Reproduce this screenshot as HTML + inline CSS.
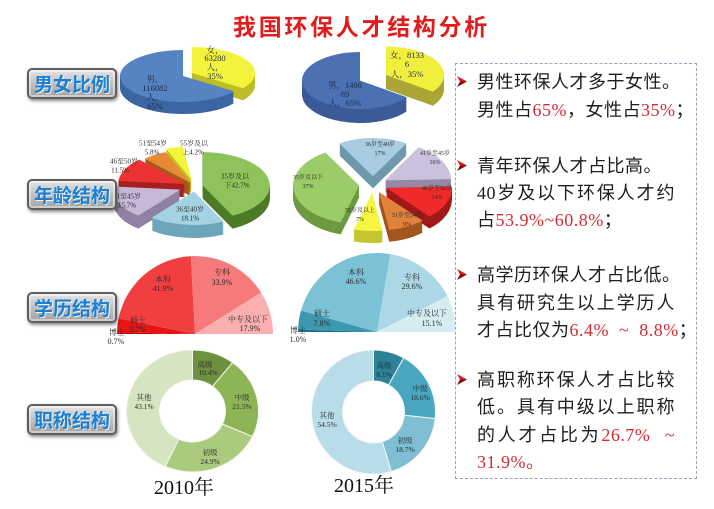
<!DOCTYPE html>
<html><head><meta charset="utf-8"><style>
html,body{margin:0;padding:0;background:#fff;}
body{width:714px;height:509px;position:relative;overflow:hidden;}
.title{position:absolute;left:233px;top:12px;font:bold 23px "Liberation Sans","Noto Sans CJK SC",sans-serif;color:#e21c1c;letter-spacing:2.7px;line-height:30px;white-space:nowrap;}
.btn{position:absolute;left:27px;width:86px;height:27px;border-radius:5px;border:2px solid #5e5e5e;background:linear-gradient(#e4e4e4,#c4c4c4 45%,#a2a2a2);box-shadow:1px 2px 3px rgba(0,0,0,.45),inset 0 0 0 2px rgba(255,255,255,.45);text-align:center;line-height:27px;font:bold 19px "Liberation Sans","Noto Sans CJK SC",sans-serif;color:#1d7fd1;text-shadow:1px 1px 0 rgba(255,255,255,.8);}
.box{position:absolute;left:455px;top:63px;width:240px;height:414px;border:1px dashed #98a4bc;background:#fff;}
.ln{position:absolute;left:477px;font-size:18px;line-height:20px;letter-spacing:0.5px;white-space:nowrap;color:#1e1e1e;font-family:"Liberation Serif","Noto Sans CJK SC",sans-serif;}
.j{width:198px;text-align:justify;text-align-last:justify;}
.r{color:#d42b33;}
.ar{position:absolute;left:457px;}
.yr{position:absolute;font:20px "Liberation Serif","Noto Serif CJK SC",serif;color:#111;line-height:24px;white-space:nowrap;}
</style></head><body>
<svg width="714" height="509" style="position:absolute;left:0;top:0" font-family="Liberation Serif, Noto Serif CJK SC, serif">
<defs>
<path id="g1b" d="M0,0 L51,15.3 A63,26 0 1 1 0,-26 Z"/>
<path id="g1y" d="M0,0 L0,-26 A63,26 0 0 1 51,15.3 Z"/>
<path id="g2b" d="M0,0 L46.9,16.8 A58,28.5 0 1 1 0,-28.5 Z"/>
<path id="g2y" d="M0,0 L0,-28.5 A58,28.5 0 0 1 46.9,16.8 Z"/>
<path id="a1g" d="M0,0 L0,-33.5 A67,33.5 0 0 1 29.69,30.03 Z"/>
<path id="a1b" d="M0,0 L29.69,30.03 A67,33.5 0 0 1 -42.08,26.07 Z"/>
<path id="a1p" d="M0,0 L-42.08,26.07 A67,33.5 0 0 1 -66.7,-3.15 Z"/>
<path id="a1r" d="M0,0 L-66.7,-3.15 A67,33.5 0 0 1 -45.86,-24.42 Z"/>
<path id="a1o" d="M0,0 L-45.86,-24.42 A67,33.5 0 0 1 -25.43,-30.99 Z"/>
<path id="a1y" d="M0,0 L-25.43,-30.99 A67,33.5 0 0 1 -8.4,-33.24 Z"/>
<path id="a2b" d="M0,0 L-33.6,-33.05 A66,38.4 0 0 1 33.6,-33.05 Z"/>
<path id="a2l" d="M0,0 L33.6,-33.05 A66,38.4 0 0 1 65.97,-1.21 Z"/>
<path id="a2r" d="M0,0 L65.97,-1.21 A66,38.4 0 0 1 43.65,28.8 Z"/>
<path id="a2o" d="M0,0 L43.65,28.8 A66,38.4 0 0 1 10.32,37.93 Z"/>
<path id="a2y" d="M0,0 L10.32,37.93 A66,38.4 0 0 1 -18.41,36.88 Z"/>
<path id="a2g" d="M0,0 L-18.41,36.88 A66,38.4 0 0 1 -33.6,-33.05 Z"/>
</defs>

<!-- Gender 2010 -->
<g transform="translate(192,73)">
<g fill="#bdbd28"><use href="#g1y" y="12"/><use href="#g1y" y="11"/><use href="#g1y" y="10"/><use href="#g1y" y="9"/><use href="#g1y" y="8"/><use href="#g1y" y="7"/><use href="#g1y" y="6"/><use href="#g1y" y="5"/><use href="#g1y" y="4"/><use href="#g1y" y="3"/><use href="#g1y" y="2"/><use href="#g1y" y="1"/></g>
<use href="#g1y" fill="#f3f33c"/></g>
<g transform="translate(183,76)">
<g fill="#3d65a3"><use href="#g1b" y="12"/><use href="#g1b" y="11"/><use href="#g1b" y="10"/><use href="#g1b" y="9"/><use href="#g1b" y="8"/><use href="#g1b" y="7"/><use href="#g1b" y="6"/><use href="#g1b" y="5"/><use href="#g1b" y="4"/><use href="#g1b" y="3"/><use href="#g1b" y="2"/><use href="#g1b" y="1"/></g>
<use href="#g1b" fill="#5683c2"/></g>
<g font-size="8.5" fill="#1e2a48" text-anchor="middle">
<text x="155" y="82">男，</text><text x="155" y="91">116082</text><text x="155" y="100">人，</text><text x="155" y="109">65%</text>
<text x="215" y="53">女，</text><text x="215" y="61">63280</text><text x="215" y="70">人，</text><text x="215" y="79">35%</text>
</g>

<!-- Gender 2015 -->
<g transform="translate(386,75)">
<g fill="#aaa636"><use href="#g2y" y="14"/><use href="#g2y" y="13"/><use href="#g2y" y="12"/><use href="#g2y" y="11"/><use href="#g2y" y="10"/><use href="#g2y" y="9"/><use href="#g2y" y="8"/><use href="#g2y" y="7"/><use href="#g2y" y="6"/><use href="#g2y" y="5"/><use href="#g2y" y="4"/><use href="#g2y" y="3"/><use href="#g2y" y="2"/><use href="#g2y" y="1"/></g>
<use href="#g2y" fill="#f0ef3e"/></g>
<g transform="translate(360,80.5)">
<g fill="#3a5a98"><use href="#g2b" y="14"/><use href="#g2b" y="13"/><use href="#g2b" y="12"/><use href="#g2b" y="11"/><use href="#g2b" y="10"/><use href="#g2b" y="9"/><use href="#g2b" y="8"/><use href="#g2b" y="7"/><use href="#g2b" y="6"/><use href="#g2b" y="5"/><use href="#g2b" y="4"/><use href="#g2b" y="3"/><use href="#g2b" y="2"/><use href="#g2b" y="1"/></g>
<use href="#g2b" fill="#4c71b3"/></g>
<g font-size="8.5" fill="#1e2a48" text-anchor="middle">
<text x="345" y="88">男，1490</text><text x="345" y="97">89</text><text x="345" y="106">人，65%</text>
<text x="407" y="58">女，8133</text><text x="407" y="67">6</text><text x="407" y="77">人，35%</text>
</g>

<!-- Age 2010 -->
<g transform="translate(191.4,179.7)"><g fill="#c0c020"><use href="#a1y" y="13"/><use href="#a1y" y="12"/><use href="#a1y" y="11"/><use href="#a1y" y="10"/><use href="#a1y" y="9"/><use href="#a1y" y="8"/><use href="#a1y" y="7"/><use href="#a1y" y="6"/><use href="#a1y" y="5"/><use href="#a1y" y="4"/><use href="#a1y" y="3"/><use href="#a1y" y="2"/><use href="#a1y" y="1"/></g><use href="#a1y" fill="#f4f43c"/></g>
<g transform="translate(190.7,183.1)"><g fill="#a85a18"><use href="#a1o" y="13"/><use href="#a1o" y="12"/><use href="#a1o" y="11"/><use href="#a1o" y="10"/><use href="#a1o" y="9"/><use href="#a1o" y="8"/><use href="#a1o" y="7"/><use href="#a1o" y="6"/><use href="#a1o" y="5"/><use href="#a1o" y="4"/><use href="#a1o" y="3"/><use href="#a1o" y="2"/><use href="#a1o" y="1"/></g><use href="#a1o" fill="#e68a34"/></g>
<g transform="translate(185.1,184.1)"><g fill="#a52020"><use href="#a1r" y="13"/><use href="#a1r" y="12"/><use href="#a1r" y="11"/><use href="#a1r" y="10"/><use href="#a1r" y="9"/><use href="#a1r" y="8"/><use href="#a1r" y="7"/><use href="#a1r" y="6"/><use href="#a1r" y="5"/><use href="#a1r" y="4"/><use href="#a1r" y="3"/><use href="#a1r" y="2"/><use href="#a1r" y="1"/></g><use href="#a1r" fill="#ec3232"/></g>
<g transform="translate(202.8,185.6)"><g fill="#4e7a28"><use href="#a1g" y="13"/><use href="#a1g" y="12"/><use href="#a1g" y="11"/><use href="#a1g" y="10"/><use href="#a1g" y="9"/><use href="#a1g" y="8"/><use href="#a1g" y="7"/><use href="#a1g" y="6"/><use href="#a1g" y="5"/><use href="#a1g" y="4"/><use href="#a1g" y="3"/><use href="#a1g" y="2"/><use href="#a1g" y="1"/></g><use href="#a1g" fill="#8dc35a"/></g>
<g transform="translate(180.3,189.6)"><g fill="#9081a3"><use href="#a1p" y="13"/><use href="#a1p" y="12"/><use href="#a1p" y="11"/><use href="#a1p" y="10"/><use href="#a1p" y="9"/><use href="#a1p" y="8"/><use href="#a1p" y="7"/><use href="#a1p" y="6"/><use href="#a1p" y="5"/><use href="#a1p" y="4"/><use href="#a1p" y="3"/><use href="#a1p" y="2"/><use href="#a1p" y="1"/></g><use href="#a1p" fill="#c6b8d7"/></g>
<g transform="translate(193.9,191.5)"><g fill="#6ca6b8"><use href="#a1b" y="13"/><use href="#a1b" y="12"/><use href="#a1b" y="11"/><use href="#a1b" y="10"/><use href="#a1b" y="9"/><use href="#a1b" y="8"/><use href="#a1b" y="7"/><use href="#a1b" y="6"/><use href="#a1b" y="5"/><use href="#a1b" y="4"/><use href="#a1b" y="3"/><use href="#a1b" y="2"/><use href="#a1b" y="1"/></g><use href="#a1b" fill="#a3d3e3"/></g>
<g font-size="7" fill="#2a2a2a" text-anchor="middle">
<text x="235" y="178.5">35岁及以</text><text x="237" y="187.5">下42.7%</text>
<text x="190" y="211.5">36至40岁</text><text x="190" y="220.5">18.1%</text>
<text x="127" y="198.5">41至45岁</text><text x="127" y="207.5">15.7%</text>
<text x="124" y="163.5">46至50岁</text><text x="120" y="172.5">11.5%</text>
<text x="153" y="145.5">51至54岁</text><text x="152" y="154.5">5.8%</text>
<text x="194" y="145.5">55岁及以</text><text x="193" y="154.5">上4.2%</text>
</g>

<!-- Age 2015 -->
<g transform="translate(373,176.4)"><g fill="#6f98ac"><use href="#a2b" y="12"/><use href="#a2b" y="11"/><use href="#a2b" y="10"/><use href="#a2b" y="9"/><use href="#a2b" y="8"/><use href="#a2b" y="7"/><use href="#a2b" y="6"/><use href="#a2b" y="5"/><use href="#a2b" y="4"/><use href="#a2b" y="3"/><use href="#a2b" y="2"/><use href="#a2b" y="1"/></g><use href="#a2b" fill="#a9cde0"/></g>
<g transform="translate(385.05,180.35)"><g fill="#948aa8"><use href="#a2l" y="12"/><use href="#a2l" y="11"/><use href="#a2l" y="10"/><use href="#a2l" y="9"/><use href="#a2l" y="8"/><use href="#a2l" y="7"/><use href="#a2l" y="6"/><use href="#a2l" y="5"/><use href="#a2l" y="4"/><use href="#a2l" y="3"/><use href="#a2l" y="2"/><use href="#a2l" y="1"/></g><use href="#a2l" fill="#cac1dc"/></g>
<g transform="translate(359.11,185.52)"><g fill="#6d9a40"><use href="#a2g" y="12"/><use href="#a2g" y="11"/><use href="#a2g" y="10"/><use href="#a2g" y="9"/><use href="#a2g" y="8"/><use href="#a2g" y="7"/><use href="#a2g" y="6"/><use href="#a2g" y="5"/><use href="#a2g" y="4"/><use href="#a2g" y="3"/><use href="#a2g" y="2"/><use href="#a2g" y="1"/></g><use href="#a2g" fill="#9ccc68"/></g>
<g transform="translate(385.85,187.74)"><g fill="#a01818"><use href="#a2r" y="12"/><use href="#a2r" y="11"/><use href="#a2r" y="10"/><use href="#a2r" y="9"/><use href="#a2r" y="8"/><use href="#a2r" y="7"/><use href="#a2r" y="6"/><use href="#a2r" y="5"/><use href="#a2r" y="4"/><use href="#a2r" y="3"/><use href="#a2r" y="2"/><use href="#a2r" y="1"/></g><use href="#a2r" fill="#f02a2a"/></g>
<g transform="translate(378.96,191.87)"><g fill="#a0561e"><use href="#a2o" y="12"/><use href="#a2o" y="11"/><use href="#a2o" y="10"/><use href="#a2o" y="9"/><use href="#a2o" y="8"/><use href="#a2o" y="7"/><use href="#a2o" y="6"/><use href="#a2o" y="5"/><use href="#a2o" y="4"/><use href="#a2o" y="3"/><use href="#a2o" y="2"/><use href="#a2o" y="1"/></g><use href="#a2o" fill="#e0823a"/></g>
<g transform="translate(372.12,192.63)"><g fill="#c5c530"><use href="#a2y" y="12"/><use href="#a2y" y="11"/><use href="#a2y" y="10"/><use href="#a2y" y="9"/><use href="#a2y" y="8"/><use href="#a2y" y="7"/><use href="#a2y" y="6"/><use href="#a2y" y="5"/><use href="#a2y" y="4"/><use href="#a2y" y="3"/><use href="#a2y" y="2"/><use href="#a2y" y="1"/></g><use href="#a2y" fill="#f5f545"/></g>
<g font-size="6" fill="#2a2a2a" text-anchor="middle">
<text x="380" y="146">36岁至40岁</text><text x="380" y="155">17%</text>
<text x="435" y="155">41岁至45岁</text><text x="435" y="164">16%</text>
<text x="437" y="190">46岁至50岁</text><text x="437" y="199">14%</text>
<text x="407" y="217">51岁至54岁</text><text x="407" y="226">9%</text>
<text x="360" y="212">55岁及以上</text><text x="360" y="221">7%</text>
<text x="308" y="179">35岁及以下</text><text x="308" y="188">37%</text>
</g>

<!-- Education 2010 -->
<path d="M195,334 L117,334 A78,78 0 0 1 117.02,332.28 Z" fill="#c80000"/>
<path d="M195,334 L117.02,332.28 A78,78 0 0 1 118.57,318.42 Z" fill="#e61414"/>
<path d="M195,334 L118.57,318.42 A78,78 0 0 1 190.83,256.11 Z" fill="#f13f3f"/>
<path d="M195,334 L190.83,256.11 A78,78 0 0 1 261.12,292.62 Z" fill="#f67a7a"/>
<path d="M195,334 L261.12,292.62 A78,78 0 0 1 273,334 Z" fill="#fab0b0"/>
<g font-size="8" fill="#2a2a2a" text-anchor="middle">
<text x="163" y="282">本科</text><text x="163" y="291">41.9%</text>
<text x="222" y="275">专科</text><text x="222" y="285">33.9%</text>
<text x="248" y="322">中专及以下</text><text x="250" y="331">17.9%</text>
<text x="138" y="323">硕士</text><text x="138" y="332">5.7%</text>
<text x="117" y="335">博士</text><text x="116" y="344">0.7%</text>
</g>

<!-- Education 2015 -->
<path d="M377,332 L298,332 A79,79 0 0 1 298.04,329.52 Z" fill="#1f6f84"/>
<path d="M377,332 L298.04,329.52 A79,79 0 0 1 301,310.44 Z" fill="#3b98ae"/>
<path d="M377,332 L301,310.44 A79,79 0 0 1 390.34,254.14 Z" fill="#7bc2d6"/>
<path d="M377,332 L390.34,254.14 A79,79 0 0 1 447.39,296.13 Z" fill="#acd8e5"/>
<path d="M377,332 L447.39,296.13 A79,79 0 0 1 456,332 Z" fill="#d5ecf2"/>
<g font-size="8" fill="#2a2a2a" text-anchor="middle">
<text x="356" y="275">本科</text><text x="356" y="284">46.6%</text>
<text x="412" y="280">专科</text><text x="412" y="289">29.6%</text>
<text x="427" y="316">中专及以下</text><text x="432" y="326">15.1%</text>
<text x="322" y="316">硕士</text><text x="322" y="326">7.8%</text>
<text x="298" y="333">博士</text><text x="298" y="342">1.0%</text>
</g>

<!-- Title donut 2010 -->
<g stroke="#f4f8ec" stroke-width="1">
<path d="M192.5,350 A66,61 0 0 1 232.62,362.57 L212.56,386.39 A33,31 0 0 0 192.5,380 Z" fill="#6e9140"/>
<path d="M232.62,362.57 A66,61 0 0 1 252.39,436.63 L222.44,424.02 A33,31 0 0 0 212.56,386.39 Z" fill="#8db556"/>
<path d="M252.39,436.63 A66,61 0 0 1 165.15,466.52 L178.82,439.21 A33,31 0 0 0 222.44,424.02 Z" fill="#aacb7e"/>
<path d="M165.15,466.52 A66,61 0 0 1 192.5,350 L192.5,380 A33,31 0 0 0 178.82,439.21 Z" fill="#d6e4c1"/>
</g>
<g font-size="7.5" fill="#2a2a2a" text-anchor="middle">
<text x="205" y="367">高级</text><text x="208" y="375">10.4%</text>
<text x="242" y="400">中级</text><text x="242" y="409">21.5%</text>
<text x="210" y="455">初级</text><text x="210" y="464">24.9%</text>
<text x="144" y="400">其他</text><text x="144" y="409">43.1%</text>
</g>

<!-- Title donut 2015 -->
<g stroke="#eef6f9" stroke-width="1">
<path d="M373.5,350 A62,62 0 0 1 403.71,357.86 L388.61,384.93 A31,31 0 0 0 373.5,381 Z" fill="#2e8298"/>
<path d="M403.71,357.86 A62,62 0 0 1 435.15,418.61 L404.32,415.3 A31,31 0 0 0 388.61,384.93 Z" fill="#4aa5bf"/>
<path d="M435.15,418.61 A62,62 0 0 1 391.17,471.43 L382.34,441.71 A31,31 0 0 0 404.32,415.3 Z" fill="#7fbed3"/>
<path d="M391.17,471.43 A62,62 0 1 1 373.5,350 L373.5,381 A31,31 0 1 0 382.34,441.71 Z" fill="#b9dde8"/>
</g>
<g font-size="7.5" fill="#1e2a30" text-anchor="middle">
<text x="384" y="368">高级</text><text x="384" y="377">8.1%</text>
<text x="420" y="391">中级</text><text x="420" y="400">18.6%</text>
<text x="405" y="443">初级</text><text x="405" y="452">18.7%</text>
<text x="327" y="418">其他</text><text x="327" y="427">54.5%</text>
</g>
</svg>

<div class="title">我国环保人才结构分析</div>

<div class="btn" style="top:68px">男女比例</div>
<div class="btn" style="top:179px">年龄结构</div>
<div class="btn" style="top:292px">学历结构</div>
<div class="btn" style="top:404px">职称结构</div>

<div class="yr" style="left:154px;top:476px">2010年</div>
<div class="yr" style="left:334px;top:474px">2015年</div>

<div class="box"></div>

<svg class="ar" style="top:76px" width="12" height="12"><polygon points="0,0 10,5.5 3,5.5" fill="#e01a1a"/><polygon points="3,5.5 10,5.5 0,11" fill="#7a0a0a"/></svg>
<svg class="ar" style="top:160px" width="12" height="12"><polygon points="0,0 10,5.5 3,5.5" fill="#e01a1a"/><polygon points="3,5.5 10,5.5 0,11" fill="#7a0a0a"/></svg>
<svg class="ar" style="top:269px" width="12" height="12"><polygon points="0,0 10,5.5 3,5.5" fill="#e01a1a"/><polygon points="3,5.5 10,5.5 0,11" fill="#7a0a0a"/></svg>
<svg class="ar" style="top:374px" width="12" height="12"><polygon points="0,0 10,5.5 3,5.5" fill="#e01a1a"/><polygon points="3,5.5 10,5.5 0,11" fill="#7a0a0a"/></svg>

<div class="ln" style="top:72px">男性环保人才多于女性。</div>
<div class="ln" style="top:100px">男性占<span class="r">65%</span>，女性占<span class="r">35%</span>；</div>
<div class="ln" style="top:156px">青年环保人才占比高。</div>
<div class="ln j" style="top:183px">40岁及以下环保人才约</div>
<div class="ln" style="top:210px">占<span class="r">53.9%~60.8%</span>；</div>
<div class="ln" style="top:265px">高学历环保人才占比低。</div>
<div class="ln j" style="top:293px">具有研究生以上学历人</div>
<div class="ln" style="top:320px">才占比仅为<span class="r">6.4%&nbsp;&nbsp;~&nbsp;&nbsp;8.8%</span>；</div>
<div class="ln j" style="top:370px">高职称环保人才占比较</div>
<div class="ln j" style="top:397px">低。具有中级以上职称</div>
<div class="ln j" style="top:425px">的人才占比为<span class="r">26.7%&nbsp;&nbsp;~</span></div>
<div class="ln" style="top:452px"><span class="r">31.9%。</span></div>
</body></html>
